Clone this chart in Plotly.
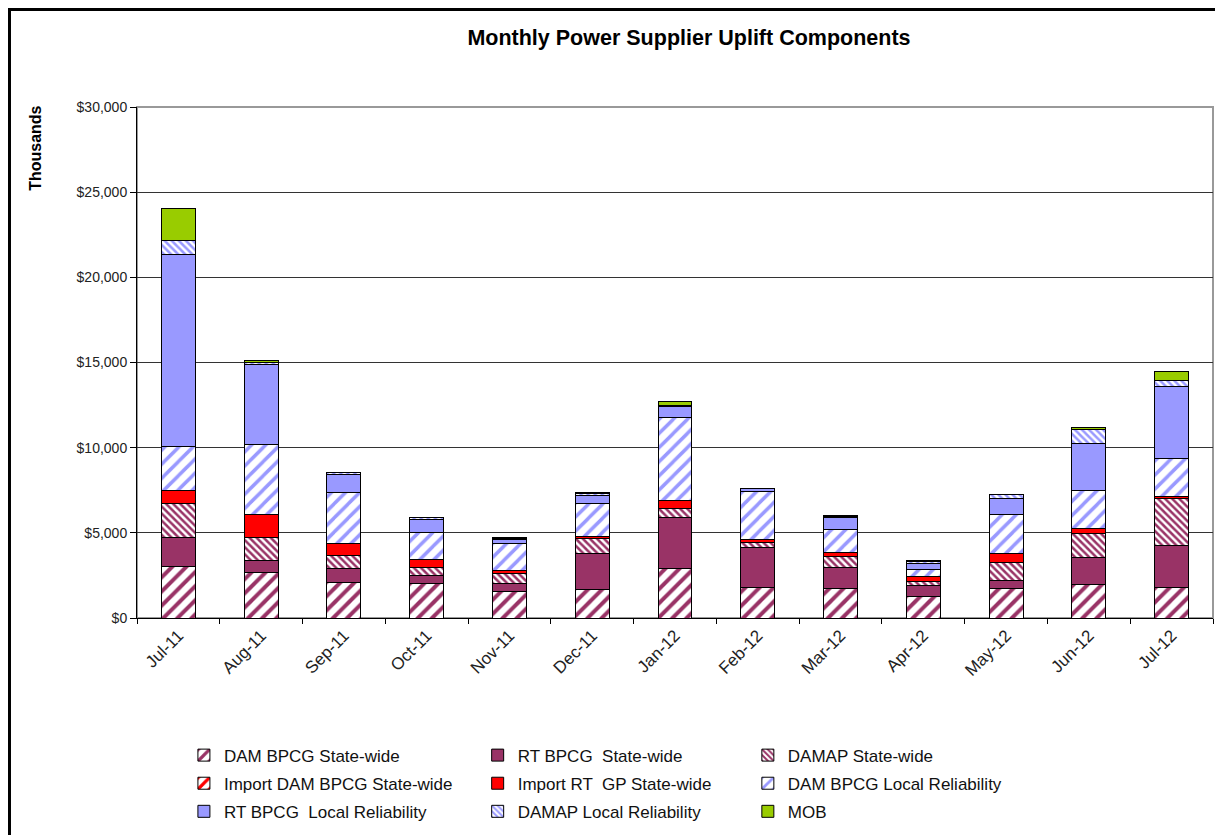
import plotly.graph_objects as go

months = ["Jul-11", "Aug-11", "Sep-11", "Oct-11", "Nov-11", "Dec-11", "Jan-12",
          "Feb-12", "Mar-12", "Apr-12", "May-12", "Jun-12", "Jul-12"]

# values in $ thousands
dam_bpcg_sw = [3050, 2670, 2100, 2020, 1550, 1650, 2900, 1780, 1710, 1290, 1710, 1940, 1810]
rt_bpcg_sw = [1700, 700, 800, 490, 490, 2120, 3020, 2380, 1280, 590, 470, 1610, 2450]
damap_sw = [2000, 1380, 790, 470, 550, 880, 510, 290, 620, 240, 1100, 1430, 2730]
import_dam_bpcg_sw = [0, 0, 0, 0, 0, 0, 0, 0, 0, 0, 0, 0, 0]
import_rt_gp_sw = [720, 1350, 670, 430, 180, 150, 470, 140, 260, 310, 530, 290, 150]
dam_bpcg_lr = [2600, 4080, 3020, 1630, 1630, 1950, 4850, 2840, 1350, 390, 2290, 2210, 2220]
rt_bpcg_lr = [11260, 4710, 1040, 720, 190, 470, 650, 160, 680, 400, 900, 2770, 4250]
damap_lr = [860, 100, 100, 150, 80, 80, 90, 40, 50, 90, 240, 790, 340]
mob = [1850, 140, 40, 0, 80, 70, 240, 0, 50, 90, 40, 150, 510]

MAROON = "#993366"
RED = "#FF0000"
BLUE = "#9999FF"
GREEN = "#99CC00"

series = [
    # name, values, color, pattern shape, pattern size, solidity, legend column
    ("DAM BPCG State-wide", dam_bpcg_sw, MAROON, "/", 10, 0.4, "legend"),
    ("RT BPCG  State-wide", rt_bpcg_sw, MAROON, "", 0, 0, "legend2"),
    ("DAMAP State-wide", damap_sw, MAROON, "\\", 5, 0.5, "legend3"),
    ("Import DAM BPCG State-wide", import_dam_bpcg_sw, RED, "/", 10, 0.4, "legend"),
    ("Import RT  GP State-wide", import_rt_gp_sw, RED, "", 0, 0, "legend2"),
    ("DAM BPCG Local Reliability", dam_bpcg_lr, BLUE, "/", 10, 0.35, "legend3"),
    ("RT BPCG  Local Reliability", rt_bpcg_lr, BLUE, "", 0, 0, "legend"),
    ("DAMAP Local Reliability", damap_lr, BLUE, "\\", 5, 0.5, "legend2"),
    ("MOB", mob, GREEN, "", 0, 0, "legend3"),
]

fig = go.Figure()
for name, vals, color, shape, psize, solid, leg in series:
    if shape:
        marker = dict(color="white",
                      pattern=dict(shape=shape, fgcolor=color, bgcolor="white",
                                   size=psize, solidity=solid, fillmode="replace"),
                      line=dict(color="black", width=1))
    else:
        marker = dict(color=color, line=dict(color="black", width=1))
    fig.add_trace(go.Bar(
        x=months, y=vals, name=name, marker=marker,
        legend=leg, legendgroup=name,
    ))

legend_common = dict(orientation="v", traceorder="grouped", tracegroupgap=3,
                     font=dict(family="Arial", size=17, color="#111"),
                     yanchor="top", xanchor="left", y=-0.234,
                     bgcolor="rgba(0,0,0,0)")

fig.update_layout(
    width=1223, height=835,
    barmode="stack",
    bargap=0.59,
    plot_bgcolor="white",
    paper_bgcolor="white",
    # page body has an 8px margin, so the figure is offset by 8px
    margin=dict(l=129, r=18, t=99, b=225),
    font=dict(family="Arial", color="#111"),
    title=dict(text="<b>Monthly Power Supplier Uplift Components</b>",
               x=0.513, xref="paper", xanchor="center",
               y=0.965, yanchor="middle",
               font=dict(family="Arial", size=21.5, color="black")),
    xaxis=dict(
        showgrid=False, showline=True, linecolor="black", linewidth=1,
        ticks="outside", ticklen=5, tickcolor="black", tickson="boundaries",
        tickangle=-45, tickfont=dict(family="Arial", size=17, color="#222"),
    ),
    yaxis=dict(
        range=[0, 30000], dtick=5000, tickprefix="$", tickformat=",d",
        showgrid=True, gridcolor="#333", gridwidth=1,
        showline=True, linecolor="black", linewidth=1,
        ticks="outside", ticklen=6, tickcolor="black",
        tickfont=dict(family="Arial", size=14, color="#222"),
        zeroline=False,
    ),
    legend=dict(x=0.0436, **legend_common),
    legend2=dict(x=0.3166, **legend_common),
    legend3=dict(x=0.5677, **legend_common),
    annotations=[dict(
        text="<b>Thousands</b>", textangle=-90,
        xref="paper", yref="paper", x=-0.0939, y=0.92,
        xanchor="center", yanchor="middle",
        showarrow=False, font=dict(family="Arial", size=16, color="black"),
    )],
    shapes=[
        # grey plot-area frame (top and right)
        dict(type="rect", xref="paper", yref="paper", x0=0, y0=0, x1=1, y1=1,
             line=dict(color="#999", width=2), layer="below"),
        # thick outer chart frame, along the figure's top and left edges
        dict(type="rect", xref="paper", yref="paper", x0=-0.1185, y0=-0.5,
             x1=1.05, y1=1.1908, line=dict(color="black", width=3)),
    ],
)

fig.write_html("out.html")
